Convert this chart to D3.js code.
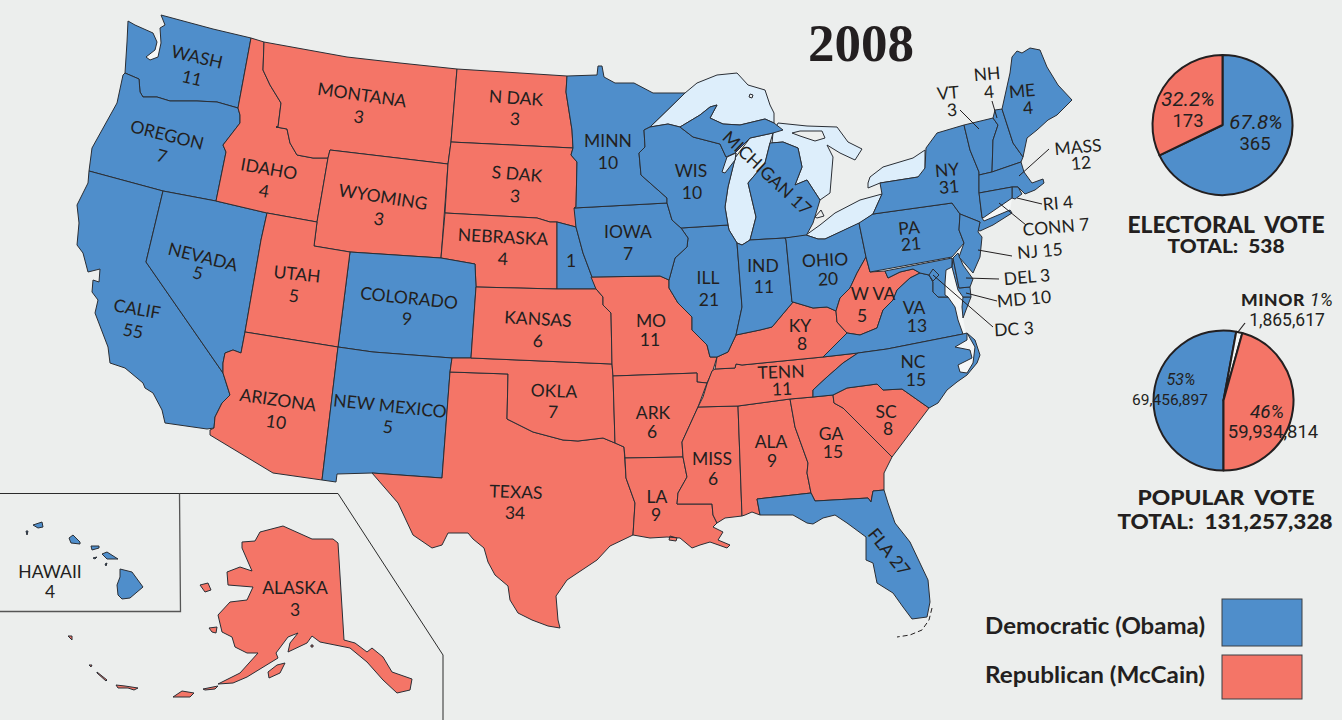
<!DOCTYPE html>
<html>
<head>
<meta charset="utf-8">
<script src="https://cdn.jsdelivr.net/npm/d3@7"></script>
<style>
  html, body { margin: 0; padding: 0; background: #eceeed; overflow: hidden; }
  svg { display: block; }
  text { fill: #231f20; }
  .state-label { font-family: Lato, "Noto Sans", sans-serif; font-size: 17.5px; }
  .head { font-family: Lato, sans-serif; font-weight: 900; }
</style>
</head>
<body>
<svg id="chart" width="1342" height="720"></svg>
<script>
const blue = '#4f8ecb';
const red = '#f47567';
const lake = '#ddeefb';
const paper = '#eceeed';
const pale = '#f5f7f7';
const ink = '#231f20';

// electoral votes per label
const labelNames = ['WASH', 'OREGON', 'CALIF', 'NEVADA', 'IDAHO', 'MONTANA', 'WYOMING', 'UTAH', 'COLORADO', 'ARIZONA', 'NEW MEXICO',
  'N DAK', 'S DAK', 'NEBRASKA', '', 'KANSAS', 'OKLA', 'TEXAS', 'MINN', 'IOWA', 'MO', 'ARK', 'LA', 'WIS', 'ILL', 'MISS', 'IND', 'OHIO',
  'KY', 'TENN', 'ALA', 'GA', 'SC', 'NC', 'VA', 'W VA', 'PA', 'NY', 'VT', 'NH', 'ME', 'MASS', 'HAWAII', 'ALASKA'];
const labelVotes = [11, 7, 55, 5, 4, 3, 3, 5, 9, 10, 5,
  3, 3, 4, 1, 6, 7, 34, 10, 7, 11, 6, 9, 10, 21, 6, 11, 20,
  8, 11, 9, 15, 8, 15, 13, 5, 21, 31, 3, 4, 4, 12, 4, 3];
// x, y, angle of name, then x, y of the number
const labelSpots = [[197, 57, 13, 192, 78], [167, 135, 14, 162, 156], [137, 309, 10, 133, 331], [203, 257, 14, 198, 273], [269, 169, 10, 264, 191],
  [362, 95, 8, 359, 117], [383, 197, 9, 379, 219], [297, 274, 6, 294, 296], [409, 298, 6, 407, 319], [278, 400, 8, 276, 422], [390, 406, 6, 388, 427],
  [516, 98, 4, 515, 119], [517, 174, 5, 515, 196], [503, 237, 3, 503, 259], [571, 261, 0, 571, 261], [538, 319, 3, 538, 341], [554, 391, 2, 553, 412],
  [516, 492, 2, 515, 513], [608, 141, 0, 608, 163], [628, 232, 0, 628, 254], [651, 321, 0, 650, 340], [653, 413, 0, 652, 432], [657, 497, 0, 656, 515],
  [691, 171, 0, 692, 193], [708, 278, 0, 709, 300], [712, 459, 0, 713, 479], [763, 266, 0, 764, 287], [825, 260, -3, 828, 279],
  [800, 326, 0, 802, 344], [781, 372, -2, 782, 389], [771, 442, 0, 772, 461], [831, 434, 0, 833, 452], [886, 412, 0, 888, 429], [913, 362, 0, 916, 380],
  [914, 308, 0, 917, 326], [873, 294, 0, 862, 316], [909, 228, -5, 911, 244], [947, 170, -5, 949, 187], [948, 93, -5, 952, 110], [987, 74, -5, 989, 92],
  [1022, 91, -5, 1028, 108], [1078, 147, -5, 1081, 163], [50, 572, 0, 50, 592], [295, 588, 0, 295, 610]];

const lineLabels = ['MICHIGAN 17', 'FLA 27', 'RI 4', 'CONN 7', 'NJ 15', 'DEL 3', 'MD 10', 'DC 3'];
const lineSpots = [[767, 173, 43], [889, 552, 51], [1058, 203, -5], [1056, 227, -5], [1040, 251, -5], [1027, 277, -5], [1024, 299, -5], [1014, 329, -3]];
const leaderLines = [[960, 110, 979, 129], [992, 101, 997, 118], [1049, 149, 1019, 176], [1042, 204, 1017, 198], [1026, 225, 999, 203],
  [1012, 256, 978, 250], [999, 279, 966, 278], [997, 301, 966, 293], [993, 327, 933, 275]];

const electoralVote = [365, 173];
const popularVote = [69456897, 1865617, 59934814];

// traced outlines
const lakeOutlines = [
  [[650, 127], [685, 93], [697, 83], [717, 75], [737, 73], [748, 85], [765, 90], [770, 105], [774, 113], [774, 123], [765, 119], [740, 125], [723, 124], [710, 118], [717, 105], [710, 107], [700, 115], [680, 127], [668, 124]],
  [[728, 225], [725, 207], [728, 187], [735, 158], [750, 138], [773, 133], [770, 143], [765, 163], [748, 183], [756, 217], [750, 240], [742, 245], [737, 243], [729, 230]],
  [[773, 133], [778, 123], [807, 126], [837, 127], [848, 142], [862, 149], [855, 160], [840, 153], [827, 145], [833, 157], [830, 193], [820, 200], [807, 180], [795, 185], [802, 167], [798, 148], [783, 142], [772, 143]],
  [[806, 235], [820, 225], [835, 213], [860, 200], [882, 194], [878, 203], [873, 214], [860, 223], [825, 239], [818, 239]],
  [[868, 183], [870, 177], [883, 167], [913, 158], [925, 150], [925, 173], [918, 177], [880, 183], [868, 188]],
  [[736, 153], [727, 157], [722, 172], [725, 173], [735, 160]]
];
const islandOutlines = [
  [[792, 133], [800, 131], [822, 131], [825, 138], [815, 141], [800, 136]],
  [[750, 94], [753, 95], [752, 98], [749, 97]],
  [[815, 217], [821, 210], [824, 216], [817, 218]]
];
const paleWater = [
  [[146, 57], [150, 60], [158, 57], [161, 43], [160, 28], [157, 42], [155, 50]],
  [[952, 267], [946, 270], [945, 295], [955, 307], [958, 320], [963, 333], [966, 334], [963, 318], [962, 307], [963, 297], [958, 290]],
  [[982, 218], [1012, 199], [1010, 210], [984, 221]]
];
const soundOutline = [[967, 333], [975, 347], [973, 363], [967, 373], [960, 372], [958, 365], [972, 358], [970, 350], [955, 347], [967, 340]];

const shapes = {
  WA: [[[128, 21], [135, 25], [153, 33], [157, 42], [155, 50], [146, 57], [150, 60], [158, 57], [161, 43], [160, 28], [165, 25], [161, 15], [213, 29], [251, 38], [238, 108], [217, 102], [197, 101], [170, 101], [157, 97], [143, 97], [140, 92], [139, 79], [125, 73], [127, 42]]],
  OR: [[[125, 73], [139, 79], [140, 92], [143, 97], [157, 97], [170, 101], [197, 101], [217, 102], [238, 108], [240, 115], [240, 123], [223, 145], [226, 152], [216, 201], [163, 191], [89, 171], [92, 148], [117, 103], [123, 75]]],
  CA: [[[89, 171], [163, 191], [146, 262], [223, 373], [230, 395], [222, 403], [215, 417], [214, 428], [207, 429], [165, 423], [162, 410], [153, 393], [145, 388], [143, 383], [125, 368], [110, 363], [108, 347], [95, 313], [98, 300], [92, 292], [93, 280], [99, 282], [100, 269], [88, 272], [83, 253], [77, 245], [79, 223], [77, 205], [88, 183]]],
  NV: [[[163, 191], [216, 201], [267, 213], [261, 240], [245, 332], [241, 353], [233, 350], [225, 353], [223, 363], [223, 373], [146, 262]]],
  ID: [[[251, 38], [264, 42], [263, 70], [270, 85], [281, 103], [278, 127], [276, 127], [287, 129], [290, 143], [297, 155], [313, 158], [328, 158], [317, 222], [267, 213], [216, 201], [226, 152], [223, 145], [240, 123], [240, 115], [238, 108]]],
  MT: [[[264, 42], [347, 57], [400, 63], [457, 69], [451, 142], [448, 164], [330, 150], [328, 158], [313, 158], [297, 155], [290, 143], [287, 129], [276, 127], [278, 127], [281, 103], [270, 85], [263, 70]]],
  WY: [[[330, 150], [448, 164], [441, 258], [350, 252], [314, 246], [317, 222], [328, 158]]],
  ND: [[[457, 69], [567, 76], [566, 92], [572, 130], [573, 148], [451, 142]]],
  SD: [[[451, 142], [573, 148], [571, 155], [577, 162], [576, 207], [576, 227], [557, 222], [550, 222], [537, 218], [445, 213], [448, 164]]],
  NE: [[[445, 213], [537, 218], [550, 222], [557, 222], [557, 289], [476, 287], [475, 264], [441, 258]]],
  NE1: [[[557, 222], [576, 227], [583, 253], [592, 277], [596, 289], [557, 289]]],
  CO: [[[350, 252], [441, 258], [475, 264], [476, 287], [471, 358], [452, 358], [373, 352], [338, 347]]],
  UT: [[[314, 246], [350, 252], [338, 347], [245, 332], [261, 240], [267, 213], [317, 222]]],
  AZ: [[[245, 332], [338, 347], [322, 480], [273, 473], [210, 435], [210, 430], [214, 428], [215, 417], [222, 403], [230, 395], [223, 373], [223, 363], [225, 353], [233, 350], [241, 353]]],
  NM: [[[338, 347], [373, 352], [452, 358], [450, 372], [442, 478], [372, 473], [337, 474], [336, 482], [322, 480]]],
  TX: [[[450, 372], [508, 374], [507, 419], [533, 432], [563, 440], [578, 441], [603, 438], [615, 443], [624, 447], [626, 478], [635, 503], [633, 535], [610, 546], [597, 560], [567, 580], [556, 596], [558, 620], [560, 628], [548, 626], [532, 620], [518, 613], [510, 600], [508, 586], [495, 575], [488, 562], [484, 548], [473, 539], [468, 533], [448, 533], [442, 545], [432, 548], [413, 535], [398, 503], [372, 473], [442, 478]]],
  OK: [[[452, 358], [471, 358], [612, 364], [613, 376], [615, 443], [603, 438], [578, 441], [563, 440], [533, 432], [507, 419], [508, 374], [450, 372]]],
  KS: [[[476, 287], [557, 289], [596, 289], [597, 290], [603, 297], [603, 305], [611, 313], [612, 364], [471, 358]]],
  MO: [[[591, 277], [660, 276], [669, 280], [669, 288], [678, 303], [692, 317], [692, 330], [707, 345], [710, 357], [717, 357], [713, 370], [707, 383], [697, 382], [697, 373], [613, 376], [612, 364], [611, 313], [603, 305], [603, 297], [597, 290], [596, 289]]],
  AR: [[[613, 376], [697, 373], [697, 382], [707, 383], [698, 407], [682, 442], [683, 457], [625, 458], [624, 447], [615, 443]]],
  LA: [[[625, 458], [683, 457], [687, 477], [678, 493], [677, 504], [712, 504], [713, 515], [717, 523], [713, 527], [723, 532], [718, 540], [730, 545], [727, 548], [710, 542], [700, 545], [692, 548], [680, 538], [667, 537], [650, 538], [633, 535], [635, 503], [626, 478]],
    [[670, 536], [677, 538], [676, 541], [669, 540]]],
  MS: [[[698, 407], [738, 406], [742, 516], [725, 518], [717, 523], [713, 515], [712, 504], [677, 504], [678, 493], [687, 477], [683, 457], [682, 442]]],
  AL: [[[738, 406], [790, 399], [795, 427], [808, 463], [807, 473], [811, 493], [757, 499], [760, 515], [752, 512], [745, 515], [742, 516]]],
  GA: [[[790, 399], [813, 397], [833, 395], [834, 403], [843, 408], [892, 457], [884, 473], [884, 490], [873, 491], [871, 502], [868, 498], [815, 501], [811, 493], [807, 473], [808, 463], [795, 427]]],
  SC: [[[833, 395], [847, 388], [877, 384], [883, 390], [902, 389], [929, 408], [892, 457], [843, 408], [834, 403]]],
  FL: [[[757, 499], [811, 493], [815, 501], [868, 498], [871, 502], [873, 491], [884, 490], [888, 503], [895, 523], [910, 542], [928, 580], [930, 602], [927, 617], [912, 619], [903, 607], [893, 593], [877, 583], [873, 563], [866, 560], [866, 537], [847, 523], [835, 515], [823, 518], [813, 524], [807, 523], [793, 515], [760, 515]]],
  TN: [[[712, 371], [715, 369], [735, 368], [736, 364], [742, 365], [823, 357], [858, 353], [843, 363], [827, 377], [813, 390], [813, 397], [790, 399], [738, 406], [698, 407], [703, 397], [707, 384]]],
  KY: [[[717, 357], [728, 352], [736, 335], [760, 330], [772, 327], [793, 302], [813, 308], [827, 307], [836, 311], [837, 322], [847, 333], [833, 347], [823, 357], [742, 365], [736, 364], [735, 368], [715, 369]]],
  IL: [[[681, 228], [728, 225], [729, 230], [737, 243], [742, 307], [736, 335], [728, 352], [717, 357], [710, 357], [707, 345], [692, 330], [692, 317], [678, 303], [669, 288], [669, 280], [675, 258], [687, 247], [688, 238]]],
  IA: [[[574, 208], [667, 203], [672, 220], [681, 228], [688, 238], [687, 247], [675, 258], [669, 280], [660, 276], [592, 277], [583, 253], [576, 227]]],
  MN: [[[567, 76], [597, 75], [598, 66], [602, 66], [604, 77], [615, 83], [634, 83], [653, 93], [685, 93], [650, 127], [644, 130], [645, 147], [639, 153], [641, 175], [667, 198], [667, 203], [574, 208], [576, 207], [577, 162], [571, 155], [573, 148], [572, 130], [566, 92]]],
  WI: [[[644, 130], [650, 127], [668, 124], [680, 127], [693, 137], [720, 144], [726, 157], [736, 155], [728, 187], [725, 207], [728, 225], [681, 228], [672, 220], [667, 203], [667, 198], [641, 175], [639, 153], [645, 147]]],
  MI: [[[680, 127], [700, 115], [710, 107], [717, 105], [710, 118], [723, 124], [740, 125], [765, 119], [774, 123], [783, 130], [773, 133], [750, 138], [735, 153], [726, 157], [720, 144], [693, 137]],
    [[770, 143], [783, 142], [798, 148], [802, 167], [795, 185], [807, 180], [820, 200], [813, 223], [806, 236], [785, 238], [750, 240], [756, 217], [748, 183], [765, 163]]],
  IN: [[[737, 243], [742, 245], [750, 240], [785, 238], [786, 240], [792, 302], [793, 302], [772, 327], [760, 330], [736, 335], [742, 307]]],
  OH: [[[785, 238], [806, 235], [818, 239], [825, 239], [859, 223], [866, 257], [857, 273], [850, 288], [840, 298], [836, 311], [827, 307], [813, 308], [793, 302], [792, 302], [786, 240]]],
  WV: [[[866, 257], [870, 272], [885, 271], [888, 278], [900, 272], [913, 269], [920, 273], [910, 278], [897, 290], [893, 300], [883, 310], [877, 328], [860, 335], [847, 333], [837, 322], [836, 311], [840, 298], [850, 288], [857, 273]]],
  VA: [[[823, 357], [833, 347], [847, 333], [860, 335], [877, 328], [883, 310], [893, 300], [897, 290], [910, 278], [920, 273], [929, 275], [933, 282], [933, 292], [938, 297], [948, 297], [955, 307], [958, 320], [963, 334], [887, 349], [858, 353]],
    [[963, 297], [971, 297], [966, 310], [963, 318], [962, 307]]],
  NC: [[[858, 353], [887, 349], [963, 334], [967, 333], [975, 340], [980, 355], [977, 363], [967, 375], [957, 382], [947, 390], [938, 403], [929, 408], [902, 389], [883, 390], [877, 384], [847, 388], [833, 395], [813, 397], [813, 390], [827, 377], [843, 363]]],
  MD: [[[885, 271], [952, 258], [952, 267], [946, 270], [945, 283], [945, 295], [948, 297], [938, 297], [933, 292], [933, 282], [929, 275], [920, 273], [913, 269], [900, 272], [888, 278]],
    [[953, 258], [959, 288], [970, 287], [971, 297], [963, 297], [958, 290], [952, 267]]],
  DE: [[[958, 253], [963, 265], [973, 279], [970, 287], [959, 288], [953, 258]]],
  DC: [[[929, 275], [933, 269], [939, 275], [933, 281]]],
  PA: [[[859, 223], [873, 214], [952, 203], [960, 214], [959, 230], [964, 243], [952, 257], [870, 272], [866, 257]]],
  NY: [[[873, 214], [882, 194], [880, 183], [918, 177], [925, 168], [926, 148], [937, 133], [964, 125], [970, 150], [979, 172], [979, 192], [982, 218], [984, 221], [1010, 210], [1012, 213], [993, 225], [980, 231], [978, 230], [980, 222], [960, 214], [952, 203]]],
  NJ: [[[960, 214], [980, 222], [978, 232], [982, 237], [980, 257], [973, 273], [959, 257], [964, 243], [959, 230]]],
  VT: [[[964, 125], [993, 118], [998, 125], [993, 140], [992, 172], [979, 175], [979, 172], [970, 150]]],
  NH: [[[993, 118], [995, 110], [1002, 109], [1013, 143], [1023, 157], [1021, 162], [992, 172], [993, 140], [998, 125]]],
  ME: [[[1002, 109], [1010, 73], [1012, 57], [1017, 51], [1022, 53], [1030, 48], [1040, 50], [1047, 67], [1058, 85], [1072, 100], [1057, 115], [1048, 120], [1037, 130], [1027, 138], [1023, 157], [1013, 143]]],
  MA: [[[979, 175], [992, 172], [1021, 162], [1024, 172], [1032, 183], [1043, 179], [1044, 183], [1035, 190], [1025, 194], [1018, 187], [1012, 187], [979, 193]]],
  RI: [[[1012, 187], [1018, 187], [1022, 194], [1015, 199], [1012, 198]]],
  CT: [[[979, 193], [1012, 187], [1012, 198], [983, 218], [982, 217]]],
  HI: [[[26, 531], [28, 531], [27, 535]], [[33, 525], [42, 522], [43, 527], [38, 528]], [[69, 538], [73, 535], [80, 542], [80, 544], [71, 543]],
    [[91, 546], [99, 546], [99, 548], [92, 550]], [[93, 558], [97, 557], [95, 559]], [[102, 554], [107, 552], [118, 559], [107, 559]], [[105, 564], [107, 563], [106, 566]],
    [[120, 569], [132, 572], [143, 587], [130, 598], [122, 599], [118, 595], [117, 585], [120, 577]]],
  AK: [[[242, 542], [255, 541], [260, 532], [283, 526], [312, 539], [333, 539], [338, 543], [344, 640], [355, 643], [367, 652], [372, 648], [383, 657], [392, 672], [412, 679], [410, 690], [397, 693], [383, 680], [367, 662], [350, 648], [320, 642], [312, 636], [307, 643], [288, 652], [290, 643], [298, 633], [288, 637], [276, 653], [278, 658], [247, 677], [233, 683], [218, 684], [240, 673], [258, 653], [247, 653], [235, 647], [232, 637], [222, 632], [218, 615], [230, 602], [247, 600], [253, 587], [228, 585], [227, 572], [240, 567], [252, 571], [242, 548]],
    [[200, 585], [208, 583], [211, 590], [205, 592]], [[209, 628], [217, 627], [216, 633], [212, 632]], [[268, 672], [277, 665], [285, 663], [280, 673], [269, 678]],
    [[203, 689], [218, 686], [215, 689], [205, 690]], [[173, 697], [182, 691], [194, 693], [190, 697]], [[116, 685], [125, 686], [138, 688], [134, 690], [128, 688], [118, 688]],
    [[97, 672], [107, 680], [106, 681], [97, 673]], [[89, 665], [92, 665], [91, 667]], [[68, 636], [72, 636], [72, 640]], [[311, 645], [313, 645], [313, 647], [311, 647]]]
};
const republicanStates = ['ID', 'MT', 'WY', 'ND', 'SD', 'NE', 'UT', 'AZ', 'TX', 'OK', 'KS', 'MO', 'AR', 'LA', 'MS', 'AL', 'GA', 'SC', 'TN', 'KY', 'WV', 'AK'];

const svg = d3.select('#chart');
const path = d3.geoPath(d3.geoIdentity());
const closeRing = ring => ring.concat([ring[0]]);
const toGeo = rings => ({ type: 'MultiPolygon', coordinates: rings.map(r => [closeRing(r)]) });

svg.append('rect').attr('width', 1342).attr('height', 720).attr('fill', paper);

// inset frames
const inset = d3.line();
svg.append('path').attr('d', inset([[0, 493.5], [338, 493.5], [443, 655], [443, 720]]))
  .attr('fill', 'none').attr('stroke', '#2b2b2b').attr('stroke-width', 1);
svg.append('path').attr('d', inset([[179.5, 493.5], [180.5, 611.5], [0, 611.5]]))
  .attr('fill', 'none').attr('stroke', '#555').attr('stroke-width', 1.3);

function drawShapes(rings, fill, hasLine) {
  svg.append('path').attr('d', path(toGeo(rings))).attr('fill', fill)
    .attr('stroke', hasLine ? '#2a2e35' : 'none').attr('stroke-width', 1).attr('stroke-linejoin', 'round');
}

drawShapes(paleWater, pale, false);
drawShapes(lakeOutlines, lake, true);
drawShapes(islandOutlines, paper, true);

Object.keys(shapes).forEach(function (id) {
  drawShapes(shapes[id], republicanStates.includes(id) ? red : blue, true);
});
drawShapes(lakeOutlines.slice(5), lake, true);
drawShapes([soundOutline], pale, true);

// florida keys
svg.append('path').attr('d', inset([[932, 608], [929, 620], [922, 630], [910, 635], [897, 637]]))
  .attr('fill', 'none').attr('stroke', ink).attr('stroke-width', 1).attr('stroke-dasharray', '5 3');

svg.selectAll('.leader').data(leaderLines).enter().append('line').attr('class', 'leader')
  .attr('x1', d => d[0]).attr('y1', d => d[1]).attr('x2', d => d[2]).attr('y2', d => d[3])
  .attr('stroke', ink).attr('stroke-width', 1);

labelNames.forEach(function (name, i) {
  const s = labelSpots[i];
  if (name) {
    svg.append('text').attr('class', 'state-label').attr('text-anchor', 'middle').attr('dy', '.35em')
      .attr('transform', 'translate(' + s[0] + ',' + s[1] + ') rotate(' + s[2] + ')').text(name);
  }
  svg.append('text').attr('class', 'state-label').attr('text-anchor', 'middle').attr('dy', '.35em')
    .attr('transform', 'translate(' + s[3] + ',' + s[4] + ') rotate(' + s[2] + ')').text(labelVotes[i]);
});
lineLabels.forEach(function (name, i) {
  const s = lineSpots[i];
  svg.append('text').attr('class', 'state-label').attr('text-anchor', 'middle').attr('dy', '.35em')
    .attr('transform', 'translate(' + s[0] + ',' + s[1] + ') rotate(' + s[2] + ')').text(name);
});

// title
svg.append('text').attr('x', 861).attr('y', 61).attr('text-anchor', 'middle')
  .style('font-family', '"Liberation Serif", serif').style('font-weight', 700).style('font-size', '53px').text('2008');

// pies
function drawPie(values, colors, cx, cy, r, start) {
  const pie = d3.pie().sort(null).startAngle(start).endAngle(start + 2 * Math.PI);
  const arc = d3.arc().innerRadius(0).outerRadius(r);
  svg.append('g').attr('transform', 'translate(' + cx + ',' + cy + ')')
    .selectAll('path').data(pie(values)).enter().append('path')
    .attr('d', arc).attr('fill', (d, i) => colors[i])
    .attr('stroke', ink).attr('stroke-width', 2).attr('stroke-linejoin', 'round');
}
drawPie(electoralVote, [blue, red], 1222.5, 125, 70, 0);
drawPie(popularVote, [blue, pale, red], 1223.5, 400.5, 70, Math.PI);

const pieText = [
  ['32.2%', 1188, 99, 20.5, true], ['173', 1188, 121, 18.5, false], ['67.8%', 1256, 122, 20.5, true], ['365', 1255, 144, 18.5, false],
  ['53%', 1181, 379, 16, true], ['69,456,897', 1170, 400, 15.5, false], ['46%', 1267, 411, 19, true], ['59,934,814', 1273, 432, 18.5, false],
  ['1,865,617', 1287, 320, 17.5, false]
];
pieText.forEach(function (t) {
  svg.append('text').attr('x', t[1]).attr('y', t[2]).attr('dy', '.35em').attr('text-anchor', 'middle')
    .style('font-family', 'Roboto, sans-serif').style('font-size', t[3] + 'px').style('font-style', t[4] ? 'italic' : 'normal').text(t[0]);
});
svg.append('line').attr('x1', 1238).attr('y1', 332).attr('x2', 1245).attr('y2', 323).attr('stroke', ink).attr('stroke-width', 1.2);
const minor = svg.append('text').attr('x', 1287).attr('y', 300).attr('dy', '.35em').attr('text-anchor', 'middle');
minor.append('tspan').attr('class', 'head').style('font-size', '17.5px').style('letter-spacing', '.6px').text('MINOR ');
minor.append('tspan').style('font-family', 'Roboto, sans-serif').style('font-style', 'italic').style('font-size', '18.5px').text('1%');

const headText = [
  ['ELECTORAL  VOTE', 1226, 225, 22, 197], ['TOTAL:  538', 1226, 247, 18, 117],
  ['POPULAR  VOTE', 1226, 498, 21, 177], ['TOTAL:  131,257,328', 1225, 522, 21, 215]
];
headText.forEach(function (t) {
  svg.append('text').attr('class', 'head').attr('x', t[1]).attr('y', t[2]).attr('dy', '.35em').attr('text-anchor', 'middle')
    .attr('xml:space', 'preserve').style('white-space', 'pre').style('font-size', t[3] + 'px')
    .attr('textLength', t[4]).attr('lengthAdjust', 'spacingAndGlyphs').text(t[0]);
});

// legend
const legendNames = ['Democratic (Obama)', 'Republican (McCain)'];
const legendColors = [blue, red];
const legendY = d3.scaleOrdinal().domain(legendNames).range([599, 655]);
const legendH = [47, 44];
legendNames.forEach(function (name, i) {
  svg.append('rect').attr('x', 1222).attr('y', legendY(name)).attr('width', 80).attr('height', legendH[i])
    .attr('fill', legendColors[i]).attr('stroke', '#3a3f45').attr('stroke-width', 1);
  svg.append('text').attr('class', 'head').attr('x', 1205).attr('y', [634, 683][i]).attr('text-anchor', 'end')
    .style('font-size', '22px').style('font-weight', 700).attr('textLength', 220).attr('lengthAdjust', 'spacingAndGlyphs').text(name);
});
</script>
</body>
</html>
